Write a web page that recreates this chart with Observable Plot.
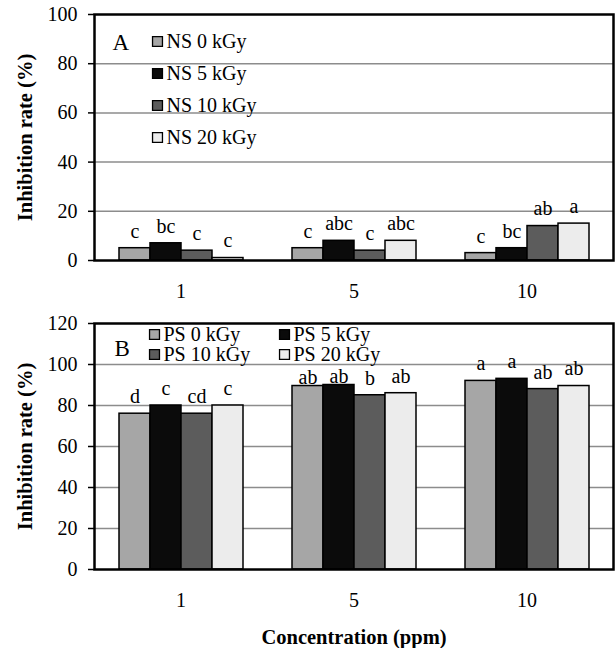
<!DOCTYPE html>
<html><head><meta charset="utf-8">
<script src="https://cdn.jsdelivr.net/npm/d3@7"></script>
<script src="https://cdn.jsdelivr.net/npm/@observablehq/plot@0.6"></script>
<style>
body{margin:0;background:#fff;overflow:hidden;}
#chart svg{display:block;}
#chart svg, #chart svg text{font-family:"Liberation Serif","Times New Roman",serif !important;}
</style></head><body><div id="chart"></div>
<script>
const concentrations = ["1", "5", "10"];
const seriesA = ["NS 0 kGy", "NS 5 kGy", "NS 10 kGy", "NS 20 kGy"];
const seriesB = ["PS 0 kGy", "PS 5 kGy", "PS 10 kGy", "PS 20 kGy"];
const fills = ["#a6a6a6", "#0b0b0b", "#5c5c5c", "#ececec"];
// values[series][concentration]
const valuesA = [[5, 5, 3], [7, 8, 5], [4, 4, 14], [1, 8, 15]];
const lettersA = [["c", "c", "c"], ["bc", "abc", "bc"], ["c", "c", "ab"], ["c", "abc", "a"]];
const valuesB = [[76, 89.5, 92], [80, 90, 93], [76, 85, 88], [80, 86, 89.5]];
const lettersB = [["d", "ab", "a"], ["c", "ab", "a"], ["cd", "b", "ab"], ["c", "ab", "ab"]];
const ticksA = [0, 20, 40, 60, 80, 100];
const ticksB = [0, 20, 40, 60, 80, 100, 120];
const yTitle = "Inhibition rate (%)";
const xTitle = "Concentration (ppm)";

const FONT = '"Liberation Serif","Times New Roman",serif';

function panel(o) {
  const rows = [];
  o.series.forEach((s, i) => concentrations.forEach((c, j) =>
    rows.push({series: s, conc: c, si: i, value: o.values[i][j], letter: o.letters[i][j]})));
  const ymax = o.ticks[o.ticks.length - 1];
  // letters that sit just under the legend are tucked a little closer to their bars
  const tucked = d => o.tuck && d.conc === o.tuck.conc && d.si < o.tuck.below;
  const legendMarks = [];
  o.series.forEach((s, i) => {
    const p = o.legendPos(i);
    legendMarks.push(Plot.dot([s], {frameAnchor: "top-left", dx: p.sx, dy: p.y, symbol: "square", r: 5.6,
      fill: fills[i], stroke: "#000", strokeWidth: 1.3, facet: "super"}));
    legendMarks.push(Plot.text([s], {frameAnchor: "top-left", dx: p.tx, dy: p.y, text: d => d, textAnchor: "start",
      lineAnchor: "middle", fontSize: 20, fontFamily: FONT, fill: "#000", facet: "super"}));
  });
  const marks = [
    Plot.ruleY(o.ticks.filter(t => t > 0 && t < ymax), {y: d => d, stroke: "#8c8c8c", strokeWidth: 1.5}),
    Plot.barY(rows, {fx: "conc", x: "series", y: "value", fill: "series", stroke: "#000", strokeWidth: 1.5}),
    Plot.text(rows.filter(d => !tucked(d)), {fx: "conc", x: "series", y: "value", text: "letter", dy: -17, fontSize: 20, fontFamily: FONT, fill: "#000"}),
    Plot.text(rows.filter(tucked), {fx: "conc", x: "series", y: "value", text: "letter", dy: -8, fontSize: 20, fontFamily: FONT, fill: "#000"}),
    Plot.frame({stroke: "#000", strokeWidth: 2.5, facet: "super"}),
    Plot.axisY({ticks: o.ticks, tickSize: 6, tickPadding: 11, strokeWidth: 1.5, label: null, tickFormat: d => d, fontFamily: FONT}),
    Plot.axisFx({anchor: "bottom", tickSize: 0, tickPadding: 23, label: null, fontFamily: FONT}),
    Plot.text([yTitle], {frameAnchor: "left", dx: -69, rotate: -90, textAnchor: "middle", lineAnchor: "middle",
      fontWeight: "bold", fontSize: 20.5, fontFamily: FONT, fill: "#000", facet: "super"}),
    Plot.text([o.tag], {frameAnchor: "top-left", dx: o.tagX, dy: o.tagY, textAnchor: "start", lineAnchor: "middle",
      fontSize: 23, fontFamily: FONT, fill: "#000", facet: "super"}),
    ...legendMarks
  ];
  if (o.xLabel) marks.push(Plot.text([o.xLabel], {frameAnchor: "bottom", dy: 67.5, lineAnchor: "middle", textAnchor: "middle",
    fontWeight: "bold", fontSize: 20.5, fontFamily: FONT, fill: "#000", facet: "super"}));
  return Plot.plot({
    width: 616, height: o.height, marginTop: o.marginTop, marginBottom: o.marginBottom,
    marginLeft: 93, marginRight: 3,
    style: {fontFamily: FONT, fontSize: "20px", color: "#000", background: "#fff", overflow: "visible"},
    fx: {domain: concentrations, padding: 0},
    x: {domain: o.series, paddingInner: 0, paddingOuter: 0.75, axis: null},
    y: {domain: [0, ymax], axis: null},
    color: {domain: o.series, range: fills},
    marks
  });
}

const el = document.getElementById("chart");
el.append(panel({
  series: seriesA, values: valuesA, letters: lettersA, ticks: ticksA,
  height: 310, marginTop: 14, marginBottom: 50, tag: "A", tagX: 18, tagY: 28,
  legendPos: i => ({sx: 63, tx: 72, y: 27 + 32 * i})
}));
el.append(panel({
  series: seriesB, values: valuesB, letters: lettersB, ticks: ticksB,
  height: 338, marginTop: 13, marginBottom: 79, tag: "B", tagX: 20, tagY: 25, xLabel: xTitle,
  tuck: {conc: "5", below: 2},
  legendPos: i => ({sx: (i % 2) ? 190 : 60, tx: (i % 2) ? 199 : 69, y: 11 + 20 * Math.floor(i / 2)})
}));
</script></body></html>
